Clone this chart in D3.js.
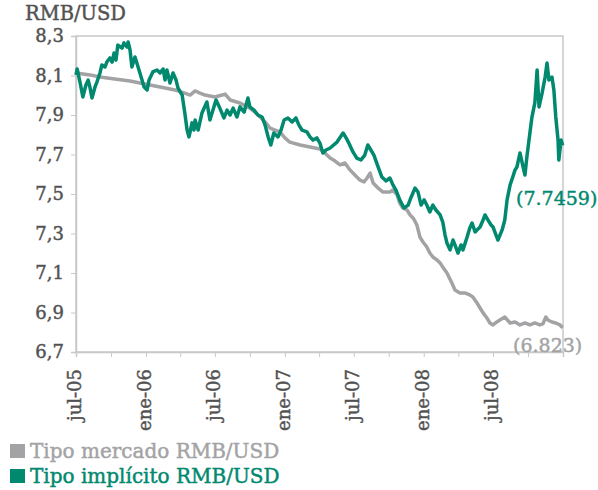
<!doctype html>
<html lang="es">
<head>
<meta charset="UTF-8">
<title>RMB/USD</title>
<style>
  body { margin: 0; background: #fff; }
  text { font-family: "DejaVu Serif", serif; }
</style>
</head>
<body>
<script src="https://d3js.org/d3.v7.min.js"></script>
<script>
// tipo implicito RMB/USD
var implicitDates = ["2005-07-01","2005-07-04","2005-07-12","2005-07-19","2005-07-27","2005-08-02","2005-08-07","2005-08-12","2005-08-20","2005-08-25",
  "2005-09-02","2005-09-07","2005-09-15","2005-09-20","2005-09-28","2005-10-04","2005-10-09","2005-10-14","2005-10-19","2005-10-30",
  "2005-11-04","2005-11-12","2005-11-15","2005-11-20","2005-11-25","2005-12-03","2005-12-08","2005-12-16","2005-12-27","2006-01-04",
  "2006-01-09","2006-01-19","2006-01-30","2006-02-07","2006-02-15","2006-02-20","2006-02-25","2006-03-05","2006-03-13","2006-03-21",
  "2006-03-26","2006-04-06","2006-04-13","2006-04-19","2006-04-24","2006-05-02","2006-05-07","2006-05-10","2006-05-18","2006-05-28",
  "2006-06-10","2006-06-18","2006-06-26","2006-07-04","2006-07-14","2006-07-25","2006-08-02","2006-08-10","2006-08-18","2006-08-28",
  "2006-09-05","2006-09-16","2006-09-26","2006-10-01","2006-10-12","2006-10-22","2006-11-02","2006-11-10","2006-11-18","2006-11-25",
  "2006-12-03","2006-12-14","2006-12-22","2006-12-30","2007-01-09","2007-01-20","2007-01-30","2007-02-07","2007-02-15","2007-02-28",
  "2007-03-08","2007-03-16","2007-03-26","2007-04-03","2007-04-11","2007-04-19","2007-04-30","2007-05-18","2007-06-03","2007-06-11",
  "2007-06-18","2007-06-29","2007-07-09","2007-07-20","2007-07-30","2007-08-07","2007-08-15","2007-08-23","2007-09-03","2007-09-13",
  "2007-09-24","2007-10-04","2007-10-12","2007-10-20","2007-10-30","2007-11-10","2007-11-21","2007-11-28","2007-12-09","2007-12-17",
  "2007-12-25","2008-01-02","2008-01-09","2008-01-17","2008-01-25","2008-02-02","2008-02-13","2008-02-20","2008-02-26","2008-03-02",
  "2008-03-10","2008-03-18","2008-03-23","2008-03-31","2008-04-08","2008-04-13","2008-04-24","2008-05-01","2008-05-07","2008-05-15",
  "2008-05-20","2008-05-28","2008-06-05","2008-06-10","2008-06-18","2008-06-26","2008-07-01","2008-07-09","2008-07-14","2008-07-25",
  "2008-08-01","2008-08-07","2008-08-15","2008-08-22","2008-08-28","2008-09-02","2008-09-10","2008-09-18","2008-09-23","2008-09-28",
  "2008-10-06","2008-10-11","2008-10-19","2008-10-25","2008-10-30","2008-11-07","2008-11-15","2008-11-20","2008-11-25","2008-12-03",
  "2008-12-08","2008-12-13","2008-12-19","2008-12-21","2008-12-27","2008-12-31"];
var implicitValues = [8.103,8.133,8.062,7.991,8.052,8.077,8.037,7.986,8.042,8.067,
  8.113,8.153,8.143,8.168,8.189,8.168,8.214,8.178,8.254,8.239,
  8.265,8.244,8.270,8.229,8.143,8.194,8.163,8.113,8.042,8.027,
  8.077,8.118,8.128,8.113,8.133,8.077,8.128,8.062,8.113,8.077,
  8.037,8.001,7.910,7.824,7.789,7.860,7.824,7.875,7.824,7.910,
  7.966,7.875,7.925,7.976,7.935,7.885,7.925,7.900,7.935,7.890,
  7.941,7.915,7.986,7.941,7.925,7.900,7.890,7.849,7.789,7.748,
  7.809,7.789,7.824,7.875,7.885,7.865,7.885,7.849,7.824,7.814,
  7.789,7.773,7.784,7.758,7.708,7.723,7.733,7.763,7.809,7.784,
  7.758,7.713,7.682,7.672,7.697,7.748,7.723,7.697,7.637,7.586,
  7.566,7.581,7.546,7.520,7.470,7.429,7.444,7.480,7.530,7.510,
  7.444,7.470,7.444,7.409,7.444,7.419,7.394,7.358,7.292,7.252,
  7.217,7.267,7.242,7.201,7.242,7.217,7.282,7.328,7.353,7.308,
  7.318,7.333,7.368,7.394,7.368,7.343,7.333,7.292,7.267,7.318,
  7.368,7.470,7.546,7.586,7.622,7.637,7.708,7.637,7.596,7.687,
  7.809,7.885,7.961,8.128,7.941,8.011,8.092,8.163,8.077,8.092,
  8.027,7.890,7.773,7.672,7.773,7.7459];

// tipo mercado RMB/USD
var marketDates = ["2005-07-01","2005-08-07","2005-09-02","2005-10-11","2005-11-20","2005-12-29","2006-02-07","2006-03-18","2006-04-13","2006-04-27",
  "2006-05-10","2006-05-23","2006-06-05","2006-07-01","2006-07-20","2006-07-28","2006-08-10","2006-09-05","2006-10-01","2006-10-14",
  "2006-10-28","2006-11-10","2006-11-23","2006-12-06","2006-12-19","2007-01-01","2007-01-14","2007-02-10","2007-03-08","2007-04-03",
  "2007-04-16","2007-04-30","2007-05-13","2007-05-26","2007-06-08","2007-06-21","2007-07-04","2007-07-17","2007-07-28","2007-08-05",
  "2007-08-13","2007-08-21","2007-09-03","2007-09-16","2007-10-04","2007-10-12","2007-10-23","2007-10-30","2007-11-07","2007-11-18",
  "2007-11-26","2007-12-04","2007-12-14","2007-12-22","2007-12-30","2008-01-09","2008-01-17","2008-01-25","2008-02-05","2008-02-13",
  "2008-02-20","2008-03-02","2008-03-15","2008-03-23","2008-04-05","2008-04-18","2008-05-01","2008-05-09","2008-05-20","2008-05-28",
  "2008-06-05","2008-06-15","2008-06-23","2008-07-01","2008-07-11","2008-07-19","2008-08-01","2008-08-15","2008-08-28","2008-09-10",
  "2008-09-23","2008-10-06","2008-10-19","2008-11-01","2008-11-09","2008-11-17","2008-11-22","2008-12-03","2008-12-13","2008-12-24",
  "2008-12-31"];
var marketValues = [8.113,8.103,8.092,8.082,8.072,8.057,8.042,8.027,8.011,8.001,
  8.022,8.011,8.001,7.991,8.001,8.006,7.976,7.961,7.935,7.915,
  7.890,7.865,7.834,7.824,7.814,7.784,7.763,7.748,7.738,7.728,
  7.708,7.682,7.667,7.647,7.657,7.622,7.596,7.571,7.561,7.581,
  7.606,7.556,7.530,7.510,7.510,7.520,7.495,7.454,7.429,7.419,
  7.394,7.379,7.343,7.282,7.257,7.232,7.201,7.181,7.166,7.151,
  7.130,7.100,7.049,7.014,6.999,6.999,6.989,6.979,6.948,6.923,
  6.898,6.872,6.847,6.837,6.852,6.862,6.877,6.847,6.852,6.837,
  6.847,6.837,6.847,6.837,6.842,6.877,6.862,6.852,6.847,6.837,
  6.823];

var yTicks = [6.7, 6.9, 7.1, 7.3, 7.5, 7.7, 7.9, 8.1, 8.3];
var monthNames = ["ene","feb","mar","abr","may","jun","jul","ago","sep","oct","nov","dic"];
var seriesNames = ["Tipo mercado RMB/USD", "Tipo implícito RMB/USD"];
var endLabels = ["(6.823)", "(7.7459)"];

var width = 598, height = 490;
var grey = "#a3a3a5", teal = "#00896f", axisText = "#525252", frame = "#c8c8c8";

var parse = d3.timeParse("%Y-%m-%d");
var implicit = implicitDates.map(function(d, i) { return { date: parse(d), value: implicitValues[i] }; });
var market = marketDates.map(function(d, i) { return { date: parse(d), value: marketValues[i] }; });

var x = d3.scaleTime()
    .domain([parse("2005-07-01"), parse("2009-01-01")])
    .range([76, 563]);
var y = d3.scaleLinear()
    .domain([6.7, 8.3])
    .range([352, 36]);

var svg = d3.select("body").append("svg")
    .attr("width", width)
    .attr("height", height);

// semi-bold look: thin stroke in the text colour
function heavy(sel, color) {
    sel.attr("fill", color).attr("stroke", color).attr("stroke-width", 0.45);
}

// frame of the plot area
svg.append("rect")
    .attr("x", x.range()[0]).attr("y", y.range()[1])
    .attr("width", x.range()[1] - x.range()[0])
    .attr("height", y.range()[0] - y.range()[1])
    .attr("fill", "none").attr("stroke", frame).attr("stroke-width", 1.5);

// y axis
var yAxis = svg.append("g")
    .attr("transform", "translate(" + x.range()[0] + ",0)")
    .call(d3.axisLeft(y).tickValues(yTicks).tickSize(5).tickPadding(7)
        .tickFormat(function(d) { return d3.format(".1f")(d).replace(".", ","); }));
yAxis.select(".domain").attr("stroke", frame).attr("stroke-width", 1.5);
yAxis.selectAll(".tick line").attr("stroke", frame);
yAxis.selectAll("text")
    .attr("font-size", 18)
    .attr("font-family", "DejaVu Serif")
    .call(heavy, axisText);

// x axis, tick every quarter, label every half year
var xAxis = svg.append("g")
    .attr("transform", "translate(0," + y.range()[0] + ")")
    .call(d3.axisBottom(x).ticks(d3.timeMonth.every(3)).tickSize(5).tickFormat(""));
xAxis.select(".domain").attr("stroke", frame).attr("stroke-width", 1.5);
xAxis.selectAll(".tick line").attr("stroke", frame);

var labelDates = x.ticks(d3.timeMonth.every(6)).filter(function(d) { return d < x.domain()[1]; });
svg.append("g").selectAll("text")
    .data(labelDates)
    .enter()
    .append("text")
        .attr("transform", function(d) { return "translate(" + x(d) + ",369) rotate(-90)"; })
        .attr("text-anchor", "end")
        .attr("dy", "0.28em")
        .attr("font-size", 18)
        .call(heavy, axisText)
        .text(function(d) { return monthNames[d.getMonth()] + "-" + d3.timeFormat("%y")(d); });

// unit label
svg.append("text")
    .attr("x", 25).attr("y", 20)
    .attr("font-size", 19.5)
    .call(heavy, axisText)
    .text("RMB/USD");

// lines
var line = d3.line()
    .x(function(d) { return x(d.date); })
    .y(function(d) { return y(d.value); });

svg.append("path")
    .datum(market)
    .attr("fill", "none").attr("stroke", grey).attr("stroke-width", 3.5)
    .attr("stroke-linejoin", "round")
    .attr("d", line);

svg.append("path")
    .datum(implicit)
    .attr("fill", "none").attr("stroke", teal).attr("stroke-width", 3.5)
    .attr("stroke-linejoin", "round")
    .attr("d", line);

// end values
svg.append("text")
    .attr("x", 513).attr("y", y(6.823) + 24)
    .attr("font-size", 19)
    .call(heavy, grey)
    .text(endLabels[0]);
svg.append("text")
    .attr("x", 516).attr("y", y(7.7459) + 60)
    .attr("font-size", 19)
    .call(heavy, teal)
    .text(endLabels[1]);

// legend
var legend = svg.append("g").selectAll("g")
    .data(seriesNames)
    .enter()
    .append("g")
        .attr("transform", function(d, i) { return "translate(10," + (444 + i * 25) + ")"; });
legend.append("rect")
    .attr("width", 15).attr("height", 14)
    .attr("fill", function(d, i) { return i === 0 ? grey : teal; });
legend.append("text")
    .attr("x", 20).attr("y", 14)
    .attr("font-size", 20)
    .each(function(d, i) { d3.select(this).call(heavy, i === 0 ? grey : teal); })
    .text(function(d) { return d; });
</script>
</body>
</html>
